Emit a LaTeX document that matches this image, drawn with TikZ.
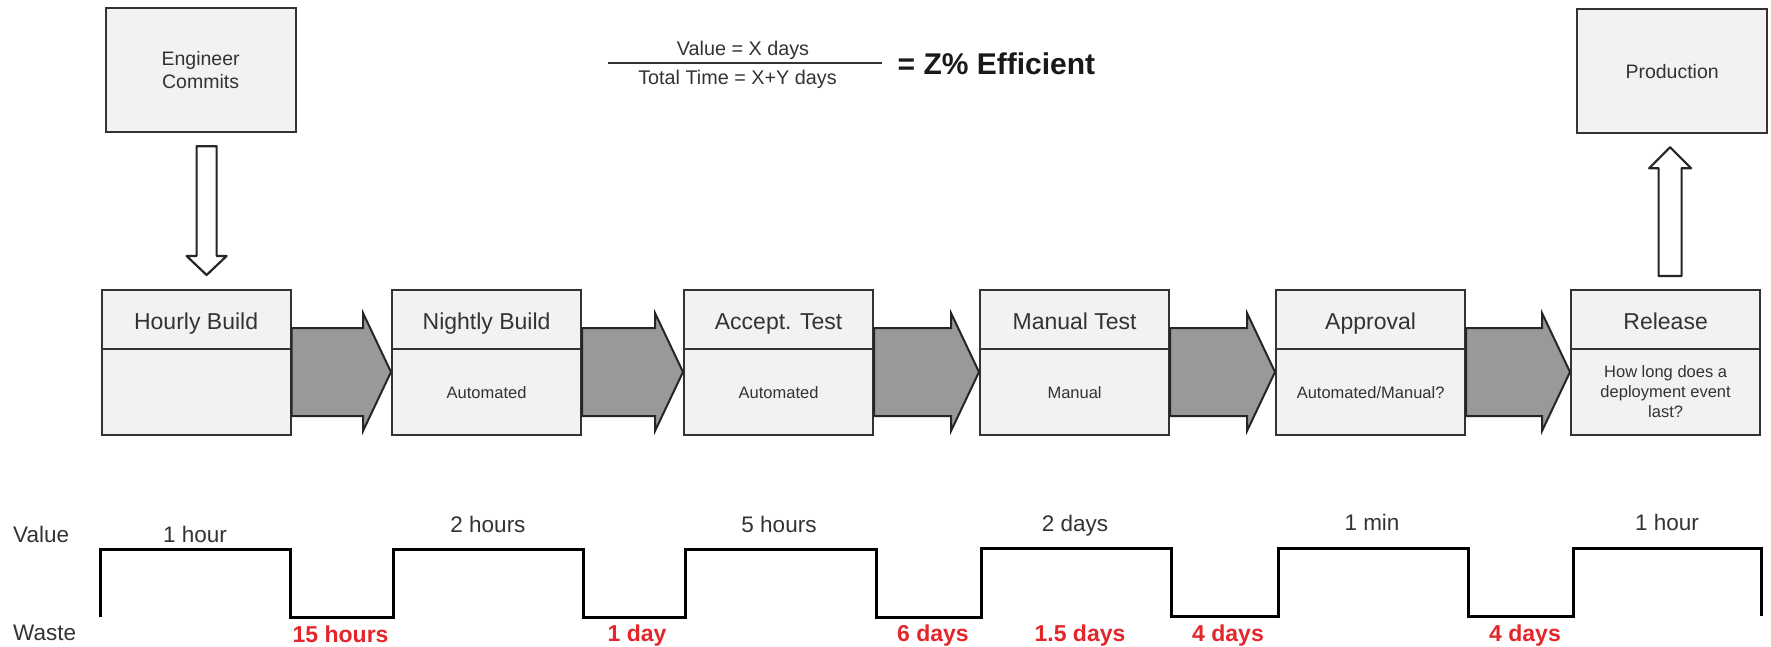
\documentclass[tikz,border=0pt]{standalone}
\usepackage{fontspec}
\setmainfont{Liberation Sans}
\usetikzlibrary{calc}
\definecolor{boxfill}{HTML}{F2F2F2}
\definecolor{boxline}{HTML}{333333}
\definecolor{arrowgray}{HTML}{999999}
\definecolor{txt}{HTML}{333333}
\definecolor{wred}{HTML}{E3262B}
\begin{document}
\begin{tikzpicture}[x=1pt,y=-1pt,
 stagebox/.style={draw=boxline, fill=boxfill, line width=2.2pt, minimum width=189pt, minimum height=145pt, inner sep=0pt, anchor=north west},
 topbox/.style={draw=boxline, fill=boxfill, line width=2.2pt, minimum width=190pt, minimum height=124pt, inner sep=0pt, anchor=north west, align=center, text=txt, font=\fontsize{19.5}{22.5}\selectfont},
 titletext/.style={text=txt, font=\fontsize{23}{27}\selectfont, inner sep=0pt, anchor=base},
 subtext/.style={text=txt, font=\fontsize{16.5}{20}\selectfont, inner sep=0pt, align=center},
 divline/.style={draw=boxline, line width=2.2pt},
 flowarrow/.style={draw=black!85, fill=arrowgray, line width=2pt, line join=miter},
 hollowarrow/.style={draw=black!85, fill=white, line width=2.2pt, line join=round},
 wave/.style={draw=black, line width=3pt, line join=miter, line cap=butt},
 valtext/.style={text=txt, font=\fontsize{22.5}{26}\selectfont, inner sep=0pt, anchor=base},
 wastetext/.style={text=wred, font=\bfseries\fontsize{23}{27}\selectfont, inner sep=0pt, anchor=base},
 formtext/.style={text=txt, font=\fontsize{19.8}{23}\selectfont, inner sep=0pt, anchor=base},
]
\useasboundingbox[fill=white] (0,0) rectangle (1771,647);

% helper levels
\coordinate (shaftT) at (0,328);
\coordinate (shaftB) at (0,416);
\coordinate (headT) at (0,313);
\coordinate (headB) at (0,431);
\coordinate (tipY) at (0,372);

% top boxes
\node[topbox] (ec) at (104.5,7) {Engineer\\Commits};
\node[topbox] (pr) at (1576,8) {Production};

% stage boxes
\node[stagebox] (b1) at (100.5,289) {};
\node[stagebox] (b2) at (391,289) {};
\node[stagebox] (b3) at (683,289) {};
\node[stagebox] (b4) at (979,289) {};
\node[stagebox] (b5) at (1275,289) {};
\node[stagebox] (b6) at (1570,289) {};

\foreach \b in {b1,b2,b3,b4,b5,b6}{
  \draw[divline] ($(\b.north west)+(0,60)$) -- ($(\b.north east)+(0,60)$);
}

\node[titletext] (t1) at ($(b1.north)+(0,40)$) {Hourly Build};
\node[titletext] (t2) at ($(b2.north)+(0,40)$) {Nightly Build};
\node[titletext] (t3) at ($(b3.north)+(0,40)$) {Accept. Test};
\node[titletext] (t4) at ($(b4.north)+(0,40)$) {Manual Test};
\node[titletext] (t5) at ($(b5.north)+(0,40)$) {Approval};
\node[titletext] (t6) at ($(b6.north)+(0,40)$) {Release};

\node[subtext, anchor=base] (s2) at ($(b2.north)+(0,109)$) {Automated};
\node[subtext, anchor=base] (s3) at ($(b3.north)+(0,109)$) {Automated};
\node[subtext, anchor=base] (s4) at ($(b4.north)+(0,109)$) {Manual};
\node[subtext, anchor=base] (s5) at ($(b5.north)+(0,109)$) {Automated/Manual?};
\node[subtext] (s6) at ($(b6.north)+(0,103)$) {How long does a\\deployment event\\last?};

% gray flow arrows
\foreach \a/\b in {b1/b2,b2/b3,b3/b4,b4/b5,b5/b6}{
  \draw[flowarrow] (\a.east |- shaftT) -- ($(\b.west |- shaftT)+(-28,0)$) -- ($(\b.west |- headT)+(-28,0)$)
    -- (\b.west |- tipY) -- ($(\b.west |- headB)+(-28,0)$) -- ($(\b.west |- shaftB)+(-28,0)$)
    -- (\a.east |- shaftB) -- cycle;
}

% hollow down arrow
\coordinate (dtop) at ($(ec.south)+(6,13)$);
\coordinate (dtipb) at (dtop |- b1.north);
\coordinate (dtip) at ($(dtipb)+(0,-14)$);
\draw[hollowarrow] ($(dtop)+(-10,0)$) -- ($(dtip)+(-10,-19)$) -- ($(dtip)+(-20,-19)$) -- (dtip)
  -- ($(dtip)+(20,-19)$) -- ($(dtip)+(10,-19)$) -- ($(dtop)+(10,0)$) -- cycle;

% hollow up arrow
\coordinate (utip) at ($(pr.south)+(-2,13)$);
\coordinate (ubotb) at (utip |- b6.north);
\coordinate (ubot) at ($(ubotb)+(0,-13)$);
\draw[hollowarrow] ($(ubot)+(-11.5,0)$) -- ($(utip)+(-11.5,21)$) -- ($(utip)+(-21,21)$) -- (utip)
  -- ($(utip)+(21,21)$) -- ($(utip)+(11.5,21)$) -- ($(ubot)+(11.5,0)$) -- cycle;

% formula
\node[formtext] (fnum) at (743,56) {Value = X days};
\node[formtext] (fden) at (737.5,85) {Total Time = X+Y days};
\coordinate (fl) at (608,63);
\coordinate (fr) at (882,63);
\draw[draw=txt, line width=2.6pt] (fl) -- (fr);
\node[text=black!90, font=\bfseries\fontsize{30}{34}\selectfont, inner sep=0pt, anchor=base west] (feff) at (897.5,75) {= Z\% Efficient};

% timeline
\node[valtext, anchor=base west] (lv) at (13,542) {Value};
\node[valtext, anchor=base west] (lw) at (13,640) {Waste};

\draw[wave] (100,617) -- (100,549) -- (290,549) -- (290,617) -- (393,617) -- (393,549) -- (583,549)
  -- (583,617) -- (685,617) -- (685,549) -- (876,549) -- (876,617) -- (981,617) -- (981,548)
  -- (1171,548) -- (1171,616) -- (1278,616) -- (1278,548) -- (1468,548) -- (1468,616)
  -- (1573,616) -- (1573,548) -- (1761,548) -- (1761,616);

\node[valtext] (v1) at (195,542) {1 hour};
\node[valtext] (v2) at (488,532) {2 hours};
\node[valtext] (v3) at (779,532) {5 hours};
\node[valtext] (v4) at (1075,531) {2 days};
\node[valtext] (v5) at (1372,530) {1 min};
\node[valtext] (v6) at (1667,530) {1 hour};

\node[wastetext] (w1) at (340.6,642) {15 hours};
\node[wastetext] (w2) at (637,641) {1 day};
\node[wastetext] (w3) at (933,641) {6 days};
\node[wastetext] (w4) at (1080,641) {1.5 days};
\node[wastetext] (w5) at (1228,641) {4 days};
\node[wastetext] (w6) at (1525,641) {4 days};
\end{tikzpicture}
\end{document}
